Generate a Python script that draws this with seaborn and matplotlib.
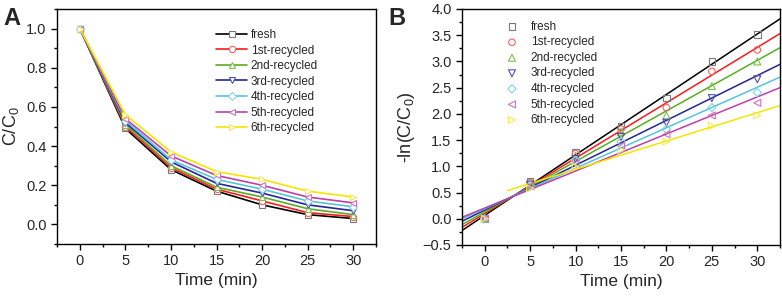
import matplotlib
matplotlib.use("Agg")
import matplotlib.pyplot as plt
from matplotlib.ticker import MultipleLocator
import numpy as np
import seaborn as sns

# data
TIME = [0, 5, 10, 15, 20, 25, 30]
LABELS = ["fresh", "1st-recycled", "2nd-recycled", "3rd-recycled",
          "4th-recycled", "5th-recycled", "6th-recycled"]

# panel A: C/C0
CC0_FRESH = [1.0, 0.49, 0.28, 0.17, 0.10, 0.05, 0.03]
CC0_1ST = [1.0, 0.50, 0.29, 0.18, 0.12, 0.06, 0.04]
CC0_2ND = [1.0, 0.51, 0.30, 0.19, 0.14, 0.08, 0.05]
CC0_3RD = [1.0, 0.52, 0.32, 0.21, 0.16, 0.10, 0.07]
CC0_4TH = [1.0, 0.53, 0.33, 0.23, 0.18, 0.12, 0.09]
CC0_5TH = [1.0, 0.54, 0.35, 0.25, 0.20, 0.14, 0.11]
CC0_6TH = [1.0, 0.56, 0.37, 0.27, 0.23, 0.17, 0.14]

# panel B: -ln(C/C0)
LN_FRESH = [0.0, 0.71, 1.27, 1.77, 2.30, 3.00, 3.51]
LN_1ST = [0.0, 0.69, 1.24, 1.71, 2.12, 2.81, 3.22]
LN_2ND = [0.0, 0.67, 1.20, 1.66, 1.97, 2.53, 3.00]
LN_3RD = [0.0, 0.65, 1.14, 1.56, 1.83, 2.30, 2.66]
LN_4TH = [0.0, 0.63, 1.11, 1.47, 1.71, 2.12, 2.41]
LN_5TH = [0.0, 0.62, 1.05, 1.39, 1.61, 1.97, 2.21]
LN_6TH = [0.0, 0.58, 0.99, 1.31, 1.47, 1.77, 1.97]

CC0 = [CC0_FRESH, CC0_1ST, CC0_2ND, CC0_3RD, CC0_4TH, CC0_5TH, CC0_6TH]
LN = [LN_FRESH, LN_1ST, LN_2ND, LN_3RD, LN_4TH, LN_5TH, LN_6TH]

COLORS = ["#000000", "#ff1a1a", "#5aad22", "#25259a", "#55c4dc", "#c03fa8", "#f2e600"]
MARKER_EC = ["#7a7a7a", "#ff6060", "#80c050", "#5050b0", "#80d4e8", "#d070c0", "#f5ec50"]
MARKERS = ["s", "o", "^", "v", "D", "<", ">"]
MSIZE = [4.5, 4.5, 4.8, 4.8, 4.0, 4.8, 4.8]

sns.set_style("white")
plt.rcParams["font.family"] = ["Liberation Sans", "DejaVu Sans"]
plt.rcParams["mathtext.fontset"] = "custom"
plt.rcParams["mathtext.rm"] = "Liberation Sans"

fig = plt.figure(figsize=(7.82, 2.97), dpi=100)
axA = fig.add_axes([57 / 782, 53 / 297, 319 / 782, 235 / 297])
axB = fig.add_axes([462 / 782, 52 / 297, 318 / 782, 236 / 297])


def style_axes(ax):
    for s in ax.spines.values():
        s.set_color("black")
        s.set_linewidth(1.0)
    ax.tick_params(which="both", direction="out", top=False, right=False,
                   left=True, bottom=True, labelsize=10.5, color="black")
    ax.tick_params(which="major", length=4, width=1.0)
    ax.tick_params(which="minor", length=2.5, width=1.0)
    ax.xaxis.set_major_locator(MultipleLocator(5))
    ax.xaxis.set_minor_locator(MultipleLocator(2.5))
    ax.set_xlim(-2.5, 32.5)
    ax.set_xlabel("Time (min)", fontsize=12.5, labelpad=3)


# ---- panel A
for i in range(7):
    sns.lineplot(x=TIME, y=CC0[i], ax=axA, color=COLORS[i], lw=1.2,
                 marker=MARKERS[i], markersize=MSIZE[i], markerfacecolor="white",
                 markeredgecolor=MARKER_EC[i], markeredgewidth=0.8,
                 label=LABELS[i])
style_axes(axA)
axA.set_ylim(-0.1, 1.1)
axA.yaxis.set_major_locator(MultipleLocator(0.2))
axA.yaxis.set_minor_locator(MultipleLocator(0.1))
axA.set_ylabel("C/C$_0$", fontsize=13, labelpad=4)
axA.legend(loc="upper left", bbox_to_anchor=(0.485, 0.935), frameon=False,
           fontsize=8.5, handlelength=2.6, handletextpad=0.3,
           labelspacing=0.3, borderaxespad=0)

# ---- panel B
for i in range(7):
    t = np.array(TIME, dtype=float)
    y = np.array(LN[i])
    if i == 6:
        # last fit leaves out t = 0 and starts at 2.5 min
        keep = t > 0
        x0 = 2.5
    else:
        keep = np.ones_like(t, dtype=bool)
        x0 = -2.5
    k, b = np.polyfit(t[keep], y[keep], 1)
    xs = [x0, 32.5]
    sns.lineplot(x=xs, y=[k * xs[0] + b, k * xs[1] + b], ax=axB,
                 color=COLORS[i], lw=1.1)
for i in range(7):
    sns.scatterplot(x=TIME, y=LN[i], ax=axB, marker=MARKERS[i],
                    s=MSIZE[i] ** 2 * 1.1, facecolor="none",
                    edgecolor=MARKER_EC[i], linewidth=0.8, label=LABELS[i],
                    zorder=3)
style_axes(axB)
axB.set_ylim(-0.5, 4.0)
axB.yaxis.set_major_locator(MultipleLocator(0.5))
axB.yaxis.set_minor_locator(MultipleLocator(0.25))
axB.set_ylabel("-ln(C/C$_0$)", fontsize=13, labelpad=4)
axB.legend(loc="upper left", bbox_to_anchor=(0.12, 0.97), frameon=False,
           fontsize=8.5, handlelength=1.2, handletextpad=1.0,
           labelspacing=0.3, borderaxespad=0)

fig.text(0.004, 0.975, "A", fontsize=17, fontweight="bold", va="top")
fig.text(0.497, 0.975, "B", fontsize=17, fontweight="bold", va="top")

fig.savefig("out.png", dpi=100)
